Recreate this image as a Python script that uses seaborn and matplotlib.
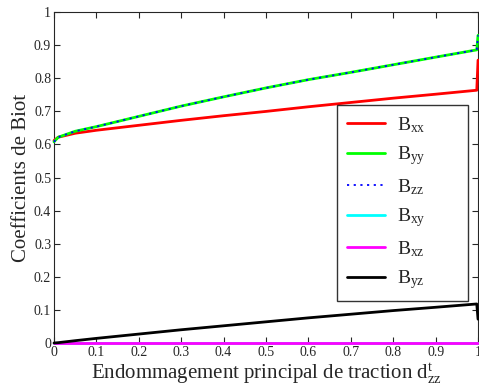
import numpy as np
import pandas as pd
import matplotlib
matplotlib.use("Agg")
import matplotlib.pyplot as plt
import seaborn as sns

# damage values (x axis)
d_zz = [0.0, 0.01, 0.05, 0.1, 0.2, 0.3, 0.4, 0.5, 0.6, 0.7, 0.8, 0.9, 0.997, 1.0]

B_xx = [0.612, 0.622, 0.634, 0.643, 0.658, 0.673, 0.687, 0.700, 0.714, 0.727, 0.740, 0.752, 0.764, 0.855]
B_yy = [0.608, 0.622, 0.640, 0.654, 0.685, 0.716, 0.744, 0.771, 0.796, 0.818, 0.841, 0.864, 0.886, 0.930]
B_zz = [0.608, 0.622, 0.640, 0.654, 0.685, 0.716, 0.744, 0.771, 0.796, 0.818, 0.841, 0.864, 0.886, 0.930]
B_xy = [0.0] * 14
B_xz = [0.0] * 14
B_yz = [0.0, 0.001, 0.007, 0.014, 0.027, 0.040, 0.052, 0.064, 0.076, 0.087, 0.098, 0.108, 0.118, 0.072]

series = [("xx", B_xx, "#ff0000", "-"),
          ("yy", B_yy, "#00ff00", "-"),
          ("zz", B_zz, "#0000ff", (0, (1.2, 2.5))),
          ("xy", B_xy, "#00ffff", "-"),
          ("xz", B_xz, "#ff00ff", "-"),
          ("yz", B_yz, "#000000", "-")]

sns.set_style("ticks")
plt.rcParams['font.family'] = ['Liberation Serif', 'DejaVu Serif']
plt.rcParams['mathtext.fontset'] = 'custom'
plt.rcParams['mathtext.rm'] = 'Liberation Serif'
plt.rcParams['mathtext.it'] = 'Liberation Serif:italic'

fig = plt.figure(figsize=(4.79, 3.92), dpi=100)
ax = fig.add_axes([0.1127, 0.125, 0.8853, 0.844])

for name, vals, col, ls in series:
    df = pd.DataFrame({"d": d_zz, "B": vals})
    sns.lineplot(data=df, x="d", y="B", ax=ax, color=col, linestyle=ls,
                 linewidth=2 if ls == "-" else 1.3,
                 label=r"$\mathrm{B}_{\mathrm{%s}}$" % name, zorder=3, clip_on=False)

ax.set_xlim(0, 1)
ax.set_ylim(0, 1)
ax.set_xticks(np.arange(0, 1.01, 0.1))
ax.set_yticks(np.arange(0, 1.01, 0.1))
ax.set_xticklabels(["0", "0.1", "0.2", "0.3", "0.4", "0.5", "0.6", "0.7", "0.8", "0.9", "1"])
ax.set_yticklabels(["0", "0.1", "0.2", "0.3", "0.4", "0.5", "0.6", "0.7", "0.8", "0.9", "1"])
ax.tick_params(direction="in", top=True, right=True, labelsize=10, length=4, width=0.8, pad=2)
for s in ax.spines.values():
    s.set_linewidth(0.8)

ax.set_xlabel(r"Endommagement principal de traction $\mathrm{d}^{\mathrm{t}}_{\mathrm{zz}}$", fontsize=15, labelpad=2)
ax.set_ylabel("Coefficients de Biot", fontsize=15, labelpad=2)

leg = ax.legend(loc="upper left", bbox_to_anchor=(0.667, 0.719, 0.309, 0.0), mode="expand",
                borderaxespad=0, fontsize=14, frameon=True, fancybox=False, edgecolor="black",
                handlelength=2.0, labelspacing=0.5, borderpad=0.5, handletextpad=0.6)
leg.get_frame().set_linewidth(1.0)

fig.savefig("out.png", dpi=100)
